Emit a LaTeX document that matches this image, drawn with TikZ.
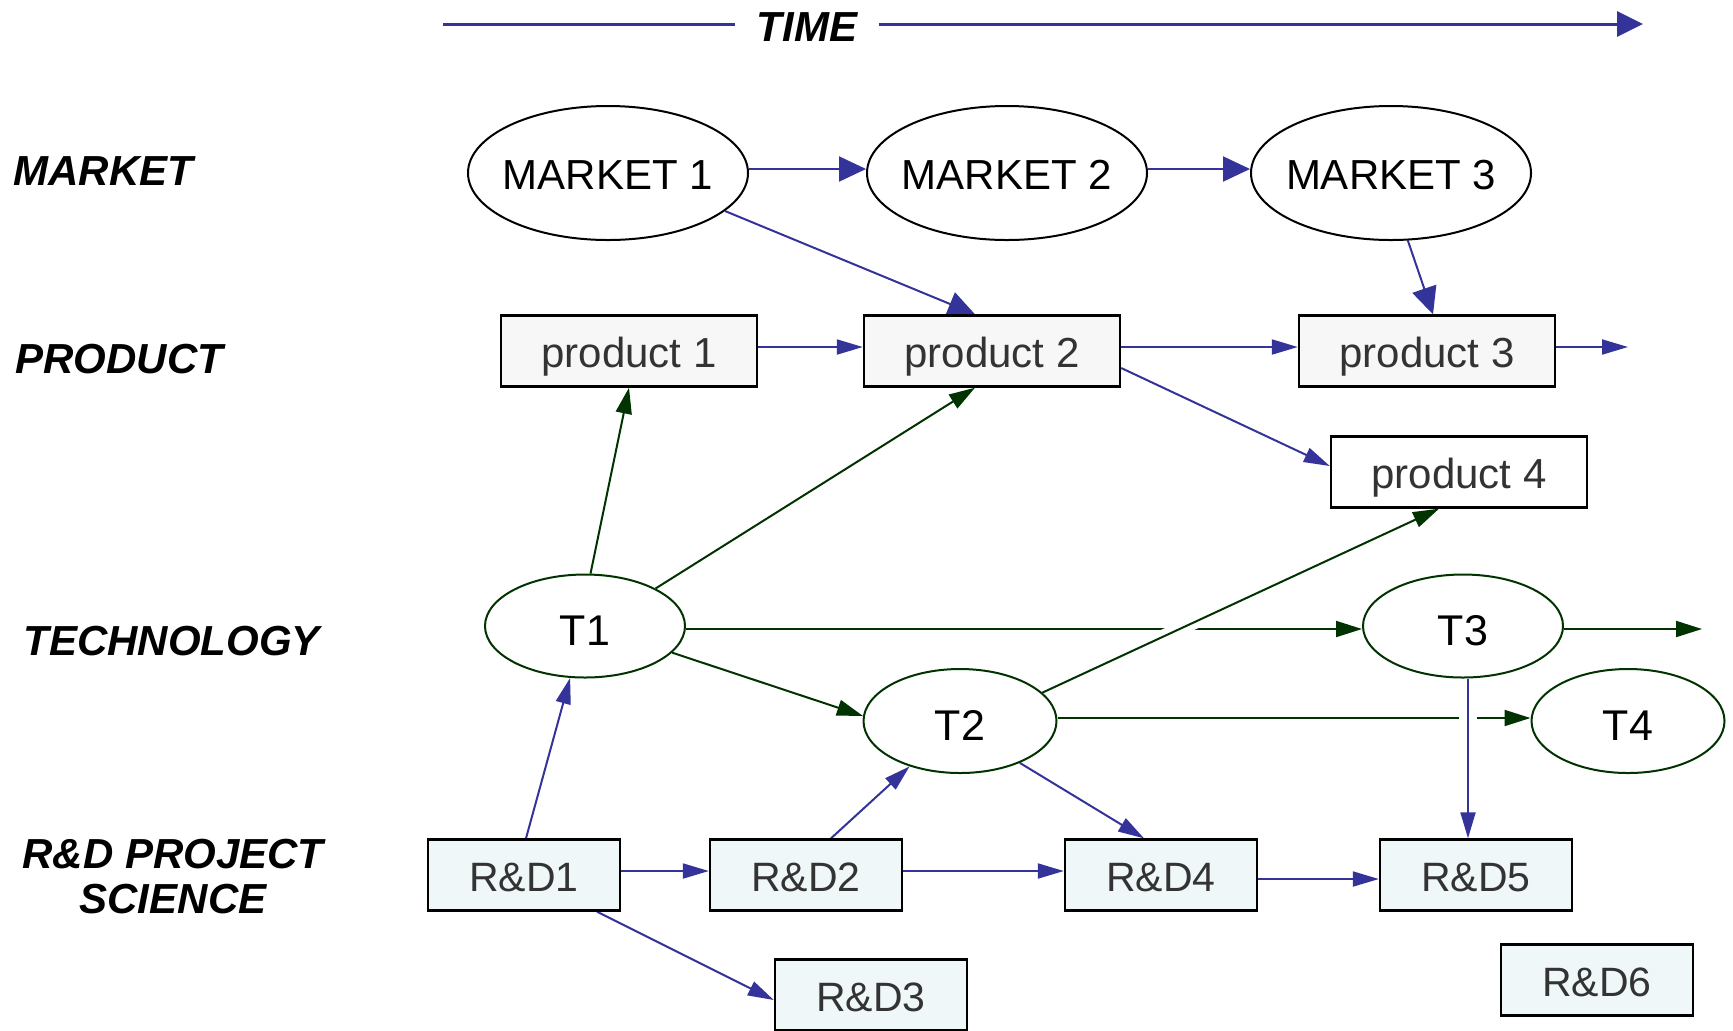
\documentclass[tikz,border=0pt]{standalone}
\usepackage{fontspec}
\setmainfont{Liberation Sans}
\usetikzlibrary{arrows.meta,shapes.geometric,backgrounds}
\definecolor{cblue}{HTML}{333399}
\definecolor{cgreen}{HTML}{003300}
\definecolor{pfill}{HTML}{F7F7F7}
\definecolor{rfill}{HTML}{EFF7F9}
\definecolor{tgray}{HTML}{333333}
\newcommand{\zwbox}[1]{\makebox[0pt]{#1}}
\begin{document}
\begin{tikzpicture}[x=0.5pt,y=-0.5pt,
  rowlabel/.style={anchor=west, inner sep=0pt, font=\fontsize{21}{25}\selectfont\bfseries\itshape},
  mkt/.style={ellipse, draw=black, line width=1pt, fill=white, minimum width=140pt, minimum height=67pt, inner sep=0pt, text height=16pt, text depth=0pt, font=\fontsize{21}{25}\selectfont},
  tech/.style={ellipse, draw=cgreen, line width=1pt, fill=white, minimum height=51.5pt, inner sep=0pt, text height=19pt, text depth=0pt, font=\fontsize{21.5}{25}\selectfont},
  prod/.style={rectangle, draw=black, line width=1.2pt, fill=pfill, minimum width=128pt, minimum height=35.5pt, inner sep=0pt, text height=16.4pt, text depth=0pt, text=tgray, font=\fontsize{21}{25}\selectfont},
  rdbox/.style={rectangle, draw=black, line width=1.2pt, fill=rfill, minimum width=96pt, minimum height=35.5pt, inner sep=0pt, text height=16pt, text depth=0pt, text=tgray, font=\fontsize{20.5}{25}\selectfont},
  barrow/.style={draw=cblue, line width=1pt, -{Triangle[length=13pt,width=7.5pt]}},
  bigarrow/.style={draw=cblue, line width=1pt, -{Triangle[length=13.5pt,width=12.5pt]}},
  garrow/.style={draw=cgreen, line width=1pt, -{Triangle[length=13pt,width=8pt]}},
]
\useasboundingbox (0,0) rectangle (1733,1030);

% time axis
\node[inner xsep=10.5pt, inner ysep=0pt, font=\fontsize{21}{25}\selectfont\bfseries\itshape] (time) at (807,27) {TIME};
\coordinate (tl) at (443,24);
\coordinate (tr) at (1643,24);
\draw[cblue, line width=1.5pt] (tl) -- (time.west |- tl);
\draw[cblue, line width=1.5pt, -{Triangle[length=13pt,width=12.5pt]}] (time.east |- tr) -- (tr);

% row labels
\node[rowlabel] (lmarket) at (13,171) {MARKET};
\node[rowlabel] (lproduct) at (15,359) {PRODUCT};
\node[rowlabel] (ltech) at (23,641) {TECHNOLOGY};
\node[rowlabel, anchor=center, align=center, font=\fontsize{21}{22.5}\selectfont\bfseries\itshape] (lrd) at (173,877) {R\&D PROJECT\\SCIENCE};

% market
\node[mkt] (m1) at (608,173) {\zwbox{MARKET 1}};
\node[mkt] (m2) at (1007,173) {\zwbox{MARKET 2}};
\node[mkt] (m3) at (1391,173) {\zwbox{MARKET 3}};

% products
\node[prod] (p1) at (629,351) {product 1};
\node[prod] (p2) at (992,351) {product 2};
\node[prod] (p3) at (1427,351) {product 3};
\node[prod, fill=white] (p4) at (1459,472) {product 4};
\coordinate (p3end) at (1628,347);

% technologies
\node[tech, minimum width=100pt] (t1) at (585,626) {T1};
\node[tech, minimum width=96.5pt, minimum height=52pt] (t2) at (960,721) {T2};
\node[tech, minimum width=100pt] (t3) at (1463,626) {T3};
\node[tech, minimum width=96.5pt, minimum height=52pt] (t4) at (1628,721) {T4};
\coordinate (t3end) at (1702,629);

% R&D
\node[rdbox] (r1) at (524,875) {R\&D1};
\node[rdbox] (r2) at (806,875) {R\&D2};
\node[rdbox] (r3) at (871,995) {R\&D3};
\node[rdbox] (r4) at (1161,875) {R\&D4};
\node[rdbox] (r5) at (1476,875) {R\&D5};
\node[rdbox] (r6) at (1597,980) {R\&D6};

\begin{pgfonlayer}{background}
% market level
\draw[bigarrow] ([yshift=2pt]m1.east) -- ([yshift=2pt]m2.west);
\draw[bigarrow] ([yshift=2pt]m2.east) -- ([yshift=2pt]m3.west);
\draw[bigarrow] (m1.-18) -- ([xshift=-8.5pt]p2.north);
\draw[bigarrow] (m3.-76) -- ([xshift=3pt]p3.north);
% product level
\draw[barrow] ([yshift=2pt]p1.east) -- ([yshift=2pt]p2.west);
\draw[barrow] ([yshift=2pt]p2.east) -- ([yshift=2pt]p3.west);
\draw[barrow] ([yshift=2pt]p3.east) -- (p3end);
\draw[barrow] ([yshift=-8.5pt]p2.east) -- ([yshift=3pt]p4.west);
% technology level
\draw[garrow] (t1.84) -- (p1.south);
\draw[garrow] (t1.28) -- ([xshift=-8.5pt]p2.south);
\draw[garrow] ([yshift=-1.5pt]t1.east) -- ([yshift=-1.5pt]t3.west);
\draw[garrow] (t1.-17) -- (t2.177);
\draw[garrow] ([yshift=-1.5pt]t3.east) -- (t3end);
\draw[garrow] ([yshift=1.5pt]t2.east) -- ([yshift=1.5pt]t4.west);
\draw[garrow, preaction={draw=white, line width=7pt, -}] (t2.19) -- ([xshift=-10pt]p4.south);
% R&D level
\draw[barrow] ([xshift=1pt]r1.north) -- (t1.-106);
\draw[barrow] ([yshift=2pt]r1.east) -- ([yshift=2pt]r2.west);
\draw[barrow] ([xshift=36.5pt]r1.south) -- ([yshift=-2.5pt]r3.west);
\draw[barrow] ([xshift=12.5pt]r2.north) -- (t2.-138);
\draw[barrow] (t2.-35) -- ([xshift=-8.5pt]r4.north);
\draw[barrow] ([yshift=2pt]r2.east) -- ([yshift=2pt]r4.west);
\draw[barrow] ([yshift=-2pt]r4.east) -- ([yshift=-2pt]r5.west);
\draw[barrow, preaction={draw=white, line width=9pt, -}] ([xshift=2.5pt]t3.south) -- ([xshift=-4pt]r5.north);
\end{pgfonlayer}
\end{tikzpicture}
\end{document}
